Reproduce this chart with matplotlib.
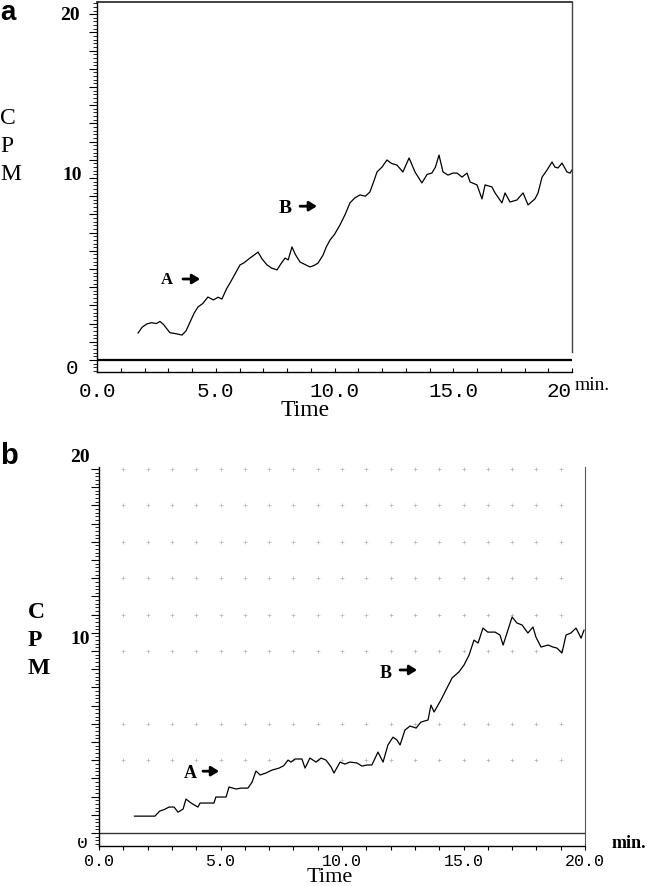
import matplotlib
matplotlib.use('Agg')
import matplotlib.pyplot as plt
from matplotlib.ticker import MultipleLocator, FixedLocator, NullFormatter
from matplotlib.transforms import Bbox
import numpy as np

W, H, DPI = 647, 886, 100

# ---------------- data ----------------
time_a = [1.73, 1.9, 2.1, 2.3, 2.5, 2.65, 2.8, 3.07, 3.3, 3.58,
          3.75, 3.92, 4.1, 4.25, 4.45, 4.67, 4.9, 5.1, 5.26, 5.45,
          5.6, 5.8, 6.02, 6.2, 6.44, 6.6, 6.78, 6.95, 7.16, 7.35,
          7.58, 7.75, 7.92, 8.05, 8.21, 8.35, 8.55, 8.75, 8.97, 9.15,
          9.31, 9.52, 9.65, 9.81, 10.0, 10.23, 10.45, 10.65, 10.85, 11.07,
          11.3, 11.49, 11.65, 11.79, 12.0, 12.21, 12.4, 12.63, 12.88, 13.14,
          13.39, 13.68, 13.9, 14.1, 14.25, 14.4, 14.57, 14.78, 14.99, 15.16,
          15.37, 15.58, 15.71, 16.0, 16.21, 16.34, 16.63, 16.76, 17.05, 17.18,
          17.39, 17.68, 17.94, 18.15, 18.44, 18.57, 18.74, 18.95, 19.16, 19.28,
          19.41, 19.58, 19.79, 19.92, 20.0]
cpm_a = [1.48, 1.8, 1.98, 2.05, 2.0, 2.12, 1.95, 1.5, 1.45, 1.37,
         1.6, 2.09, 2.6, 2.91, 3.1, 3.46, 3.3, 3.45, 3.35, 3.9,
         4.23, 4.7, 5.22, 5.35, 5.6, 5.75, 5.93, 5.55, 5.22, 5.05,
         4.95, 5.3, 5.6, 5.5, 6.21, 5.8, 5.38, 5.25, 5.11, 5.2,
         5.33, 5.77, 6.2, 6.59, 6.9, 7.42, 8.0, 8.63, 8.9, 9.07,
         9.0, 9.23, 9.8, 10.33, 10.6, 10.99, 10.8, 10.71, 10.33, 11.1,
         10.33, 9.73, 10.2, 10.27, 10.6, 11.26, 10.33, 10.16, 10.27, 10.27,
         10.05, 10.27, 9.78, 9.62, 8.85, 9.62, 9.51, 9.18, 8.63, 9.18,
         8.68, 8.79, 9.18, 8.52, 8.85, 9.18, 10.05, 10.44, 10.88, 10.6,
         10.55, 10.82, 10.33, 10.27, 10.44]

time_b = [1.46, 2.3, 2.5, 2.7, 2.88, 3.09, 3.25, 3.46, 3.58, 3.79,
          4.07, 4.16, 4.73, 4.81, 5.23, 5.35, 5.64, 5.84, 6.13, 6.3,
          6.46, 6.63, 6.87, 7.12, 7.41, 7.6, 7.78, 7.9, 8.07, 8.35,
          8.48, 8.68, 8.93, 9.14, 9.34, 9.55, 9.67, 9.92, 10.12, 10.33,
          10.62, 10.82, 11.03, 11.23, 11.48, 11.69, 11.89, 12.1, 12.26, 12.39,
          12.59, 12.8, 13.05, 13.25, 13.54, 13.66, 13.79, 14.07, 14.32, 14.53,
          14.81, 15.02, 15.23, 15.43, 15.6, 15.8, 16.0, 16.3, 16.5, 16.63,
          16.79, 17.0, 17.2, 17.41, 17.65, 17.86, 17.98, 18.19, 18.48, 18.68,
          18.85, 19.05, 19.22, 19.42, 19.63, 19.84, 19.96]
cpm_b = [0.93, 0.93, 1.21, 1.3, 1.43, 1.43, 1.15, 1.32, 1.87, 1.65,
         1.43, 1.65, 1.65, 1.98, 1.98, 2.53, 2.42, 2.47, 2.47, 2.8,
         3.41, 3.19, 3.3, 3.46, 3.57, 3.7, 4.01, 3.9, 4.07, 4.07,
         3.57, 4.12, 3.9, 4.12, 4.01, 3.63, 3.3, 3.9, 3.79, 3.9,
         3.85, 3.68, 3.74, 3.74, 4.45, 3.9, 4.84, 5.27, 5.11, 4.84,
         5.66, 5.88, 5.77, 6.1, 6.21, 7.03, 6.65, 7.31, 7.97, 8.52,
         8.85, 9.23, 9.78, 10.6, 10.44, 11.26, 11.04, 11.04, 10.88, 10.33,
         10.99, 11.87, 11.54, 11.43, 10.99, 11.32, 10.77, 10.22, 10.33, 10.22,
         10.16, 9.89, 10.88, 10.99, 11.26, 10.71, 11.15]

xtick_vals = [0, 5, 10, 15, 20]
xtick_labels_a = ['0.0', '5.0', '10.0', '15.0', '20']
xtick_labels_b = ['0.0', '5.0', '10.0', '15.0', '20.0']
grid_rows_b = [4, 6, 10, 12, 14, 16, 18, 20]
grid_cols_b = list(range(1, 20))

SERIF = ['Liberation Serif', 'DejaVu Serif']
MONO = ['Liberation Mono', 'DejaVu Sans Mono']
SANS = ['Liberation Sans', 'DejaVu Sans']

fig = plt.figure(figsize=(W / DPI, H / DPI), dpi=DPI)
fig.patch.set_facecolor('white')


def rect(l, t, r, b):
    return [l / W, 1 - b / H, (r - l) / W, (b - t) / H]


def ftext(x, y, s, **kw):
    return fig.text(x / W, 1 - y / H, s, **kw)


ARROW = dict(arrowstyle='-|>,head_length=0.45,head_width=0.28', color='black',
             lw=2.0, mutation_scale=10, shrinkA=0, shrinkB=0)

# ---------------- panel a ----------------
axA = fig.add_axes(rect(97, 2, 572, 372))
axA.set_xlim(0, 20)
axA.set_ylim(-0.66, 19.67)
axA.plot(time_a, cpm_a, color='black', lw=0.9)
axA.axhline(0, color='black', lw=1.6)
axA.axvline(20, ymin=20 / 370, ymax=1, color='#444444', lw=1.0, clip_on=False)
axA.spines['right'].set_visible(False)
axA.spines['top'].set_color('#333333')
axA.spines['top'].set_linewidth(1.3)
for s in ('left', 'bottom'):
    axA.spines[s].set_color('black')
    axA.spines[s].set_linewidth(1.0)
axA.yaxis.set_major_locator(MultipleLocator(1))
axA.yaxis.set_minor_locator(MultipleLocator(0.2))
axA.yaxis.set_major_formatter(NullFormatter())
axA.tick_params(axis='y', which='major', direction='out', length=6, width=0.8)
axA.tick_params(axis='y', which='minor', direction='out', length=3, width=0.6)
axA.xaxis.set_major_locator(FixedLocator(xtick_vals))
axA.set_xticklabels(xtick_labels_a, family=MONO, fontsize=15)
axA.xaxis.set_minor_locator(MultipleLocator(1))
axA.tick_params(axis='x', which='both', direction='in', length=3, width=0.8, pad=7)
axA.get_xticklabels()[-1].set_ha('right')

axA.annotate('A', xy=(2.95, 4.4), ha='center', va='center', fontsize=12,
             fontweight='bold', family=SERIF)
axA.annotate('', xy=(4.34, 4.45), xytext=(3.62, 4.45), arrowprops=ARROW)
axA.annotate('B', xy=(7.92, 8.35), ha='center', va='center', fontsize=14,
             fontweight='bold', family=SERIF)
axA.annotate('', xy=(9.26, 8.45), xytext=(8.55, 8.45), arrowprops=ARROW)

# y labels panel a
ftext(80, 15, '20', ha='right', va='center', fontsize=14, fontweight='bold', family=SERIF)
ftext(82, 175, '10', ha='right', va='center', fontsize=14, fontweight='bold', family=SERIF)
ftext(78, 369, '0', ha='right', va='center', fontsize=15, family=MONO)
for ch, yy in (('C', 118), ('P', 147), ('M', 175)):
    ftext(0, yy, ch, ha='left', va='center', fontsize=17, family=SERIF)
ftext(305, 411, 'Time', ha='center', va='center', fontsize=17, family=SERIF)
ftext(575, 386, 'min.', ha='left', va='center', fontsize=14, family=SERIF)
ftext(0, 13, 'a', ha='left', va='center', fontsize=20, fontweight='bold', family=SANS)

# ---------------- panel b ----------------
axB = fig.add_axes(rect(99, 467, 585, 846))
axB.set_xlim(0, 20)
axB.set_ylim(-0.71, 20.11)
gx, gy = np.meshgrid(grid_cols_b, grid_rows_b)
axB.scatter(gx.ravel(), gy.ravel(), marker='+', s=6, linewidths=0.5,
            color='#b5b5b5', zorder=1)
axB.plot(time_b, cpm_b, color='black', lw=0.9, zorder=3)
axB.axhline(0, color='#333333', lw=1.0)
axB.spines['top'].set_visible(False)
axB.spines['right'].set_color('#555555')
for s in ('left', 'bottom'):
    axB.spines[s].set_color('black')
    axB.spines[s].set_linewidth(1.0)
axB.yaxis.set_major_locator(MultipleLocator(1))
axB.yaxis.set_minor_locator(MultipleLocator(0.2))
axB.yaxis.set_major_formatter(NullFormatter())
axB.tick_params(axis='y', which='major', direction='out', length=6, width=0.8)
axB.tick_params(axis='y', which='minor', direction='out', length=3, width=0.6)
axB.xaxis.set_major_locator(FixedLocator(xtick_vals))
axB.set_xticklabels(xtick_labels_b, family=MONO, fontsize=12)
axB.xaxis.set_minor_locator(MultipleLocator(1))
axB.tick_params(axis='x', which='both', direction='out', length=3, width=0.8, pad=2.5)

axB.annotate('A', xy=(3.74, 3.3), ha='center', va='center', fontsize=13,
             fontweight='bold', family=SERIF)
axB.annotate('', xy=(4.94, 3.4), xytext=(4.28, 3.4), arrowprops=ARROW)
axB.annotate('B', xy=(11.81, 8.79), ha='center', va='center', fontsize=13,
             fontweight='bold', family=SERIF)
axB.annotate('', xy=(13.09, 8.96), xytext=(12.39, 8.96), arrowprops=ARROW)

ftext(90, 457, '20', ha='right', va='center', fontsize=14, fontweight='bold', family=SERIF)
ftext(90, 640, '10', ha='right', va='center', fontsize=14, fontweight='bold', family=SERIF)
t0 = ftext(82, 843, '0', ha='center', va='center', fontsize=13, family=MONO)
t0.set_clip_box(Bbox([[0, 0], [W, H - 838]]))
t0.set_clip_on(True)
for ch, yy in (('C', 612), ('P', 640), ('M', 668)):
    ftext(28, yy, ch, ha='left', va='center', fontsize=17, fontweight='bold', family=SERIF)
ftext(330, 877, 'Time', ha='center', va='center', fontsize=16, family=SERIF)
ftext(612, 844, 'min.', ha='left', va='center', fontsize=13, fontweight='bold', family=SERIF)
ftext(0, 456, 'b', ha='left', va='center', fontsize=21, fontweight='bold', family=SANS)

fig.savefig('out.png', dpi=DPI, facecolor='white')
